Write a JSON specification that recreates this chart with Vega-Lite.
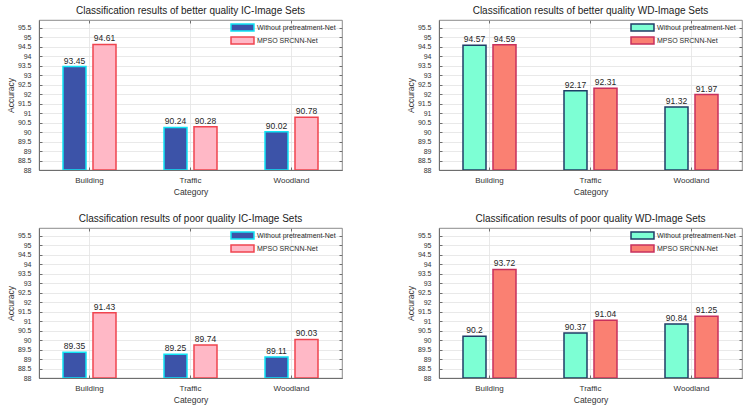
{
  "$schema": "https://vega.github.io/schema/vega-lite/v6.json",
  "autosize": {"type": "pad"},
  "padding": {"left": 5, "top": 5, "right": 7, "bottom": 5},
  "background": "white",
  "config": {
    "font": "Liberation Sans",
    "view": {"stroke": "#6e6e6e", "strokeWidth": 0.8},
    "axis": {"domainColor": "#6e6e6e", "tickColor": "#6e6e6e", "gridColor": "#e3e3e3", "gridWidth": 0.8, "labelColor": "#333333", "titleColor": "#333333", "titleFontWeight": "normal", "labelFont": "Liberation Sans", "titleFont": "Liberation Sans"},
    "title": {"font": "Liberation Sans", "fontSize": 10, "fontWeight": "normal", "color": "#222222", "offset": 4},
    "legend": {"labelFont": "Liberation Sans", "labelFontSize": 7, "labelColor": "#2a2a2a", "orient": "none", "legendX": 197, "legendY": 1, "padding": 0, "symbolType": "M-2,-0.6H2V0.6H-2Z", "symbolSize": 132, "symbolStrokeWidth": 1.5, "symbolOpacity": 1, "rowPadding": -1, "labelOffset": 8, "title": null}
  },
  "bounds": "flush",
  "columns": 2,
  "spacing": {"row": 58, "column": 97},
  "datasets": {
    "ic_better": [
      {"category": "Building", "method": "Without pretreatment-Net", "accuracy": 93.45},
      {"category": "Building", "method": "MPSO SRCNN-Net", "accuracy": 94.61},
      {"category": "Traffic", "method": "Without pretreatment-Net", "accuracy": 90.24},
      {"category": "Traffic", "method": "MPSO SRCNN-Net", "accuracy": 90.28},
      {"category": "Woodland", "method": "Without pretreatment-Net", "accuracy": 90.02},
      {"category": "Woodland", "method": "MPSO SRCNN-Net", "accuracy": 90.78}
    ],
    "wd_better": [
      {"category": "Building", "method": "Without pretreatment-Net", "accuracy": 94.57},
      {"category": "Building", "method": "MPSO SRCNN-Net", "accuracy": 94.59},
      {"category": "Traffic", "method": "Without pretreatment-Net", "accuracy": 92.17},
      {"category": "Traffic", "method": "MPSO SRCNN-Net", "accuracy": 92.31},
      {"category": "Woodland", "method": "Without pretreatment-Net", "accuracy": 91.32},
      {"category": "Woodland", "method": "MPSO SRCNN-Net", "accuracy": 91.97}
    ],
    "ic_poor": [
      {"category": "Building", "method": "Without pretreatment-Net", "accuracy": 89.35},
      {"category": "Building", "method": "MPSO SRCNN-Net", "accuracy": 91.43},
      {"category": "Traffic", "method": "Without pretreatment-Net", "accuracy": 89.25},
      {"category": "Traffic", "method": "MPSO SRCNN-Net", "accuracy": 89.74},
      {"category": "Woodland", "method": "Without pretreatment-Net", "accuracy": 89.11},
      {"category": "Woodland", "method": "MPSO SRCNN-Net", "accuracy": 90.03}
    ],
    "wd_poor": [
      {"category": "Building", "method": "Without pretreatment-Net", "accuracy": 90.2},
      {"category": "Building", "method": "MPSO SRCNN-Net", "accuracy": 93.72},
      {"category": "Traffic", "method": "Without pretreatment-Net", "accuracy": 90.37},
      {"category": "Traffic", "method": "MPSO SRCNN-Net", "accuracy": 91.04},
      {"category": "Woodland", "method": "Without pretreatment-Net", "accuracy": 90.84},
      {"category": "Woodland", "method": "MPSO SRCNN-Net", "accuracy": 91.25}
    ]
  },
  "concat": [
    {
      "title": "Classification results of better quality IC-Image Sets",
      "width": 303, "height": 150,
      "data": {"name": "ic_better"},
      "encoding": {
        "x": {"field": "category", "type": "nominal", "sort": ["Building", "Traffic", "Woodland"], "scale": {"paddingInner": 0, "paddingOuter": 0}, "axis": {"title": "Category", "labelAngle": 0, "labelFontSize": 8, "titleFontSize": 8.5, "tickSize": -3, "labelPadding": 9, "titlePadding": 3, "grid": true, "bandPosition": 0.5}},
        "xOffset": {"field": "method", "sort": ["Without pretreatment-Net", "MPSO SRCNN-Net"], "scale": {"paddingInner": 0.233, "paddingOuter": 0.8}},
        "y": {"field": "accuracy", "type": "quantitative", "scale": {"domain": [88, 95.9], "zero": false, "nice": false}, "axis": {"title": "Accuracy", "format": "~g", "values": [88, 88.5, 89, 89.5, 90, 90.5, 91, 91.5, 92, 92.5, 93, 93.5, 94, 94.5, 95, 95.5], "labelFontSize": 7, "titleFontSize": 8.5, "tickSize": -3, "labelPadding": 11, "titlePadding": 2, "grid": true}}
      },
      "layer": [
        {
          "mark": {"type": "bar", "strokeWidth": 1.5, "clip": true},
          "encoding": {
            "y2": {"datum": 88},
            "fill": {"field": "method", "type": "nominal", "scale": {"domain": ["Without pretreatment-Net", "MPSO SRCNN-Net"], "range": ["#3c53a8", "#ffb8c6"]}},
            "stroke": {"field": "method", "type": "nominal", "scale": {"domain": ["Without pretreatment-Net", "MPSO SRCNN-Net"], "range": ["#10e4f4", "#f0444f"]}}
          }
        },
        {
          "mark": {"type": "text", "baseline": "bottom", "dy": -1, "fontSize": 8.5, "color": "#262626"},
          "encoding": {
            "text": {"field": "accuracy", "type": "quantitative", "format": "~g"},
            "x": {"field": "category", "type": "nominal", "sort": ["Building", "Traffic", "Woodland"], "axis": {"orient": "top", "title": null, "labels": false, "tickSize": -3, "domain": false, "grid": false, "bandPosition": 0.5}},
            "y": {"field": "accuracy", "type": "quantitative", "axis": {"orient": "right", "title": null, "labels": false, "tickSize": -3, "domain": false, "grid": false, "values": [88, 88.5, 89, 89.5, 90, 90.5, 91, 91.5, 92, 92.5, 93, 93.5, 94, 94.5, 95, 95.5]}}
          }
        }
      ],
      "resolve": {"axis": {"x": "independent", "y": "independent"}}
    },
    {
      "title": "Classification results of better quality WD-Image Sets",
      "width": 303, "height": 150,
      "data": {"name": "wd_better"},
      "encoding": {
        "x": {"field": "category", "type": "nominal", "sort": ["Building", "Traffic", "Woodland"], "scale": {"paddingInner": 0, "paddingOuter": 0}, "axis": {"title": "Category", "labelAngle": 0, "labelFontSize": 8, "titleFontSize": 8.5, "tickSize": -3, "labelPadding": 9, "titlePadding": 3, "grid": true, "bandPosition": 0.5}},
        "xOffset": {"field": "method", "sort": ["Without pretreatment-Net", "MPSO SRCNN-Net"], "scale": {"paddingInner": 0.233, "paddingOuter": 0.8}},
        "y": {"field": "accuracy", "type": "quantitative", "scale": {"domain": [88, 95.9], "zero": false, "nice": false}, "axis": {"title": "Accuracy", "format": "~g", "values": [88, 88.5, 89, 89.5, 90, 90.5, 91, 91.5, 92, 92.5, 93, 93.5, 94, 94.5, 95, 95.5], "labelFontSize": 7, "titleFontSize": 8.5, "tickSize": -3, "labelPadding": 11, "titlePadding": 2, "grid": true}}
      },
      "layer": [
        {
          "mark": {"type": "bar", "strokeWidth": 1.5, "clip": true},
          "encoding": {
            "y2": {"datum": 88},
            "fill": {"field": "method", "type": "nominal", "scale": {"domain": ["Without pretreatment-Net", "MPSO SRCNN-Net"], "range": ["#7dffd4", "#fa8072"]}},
            "stroke": {"field": "method", "type": "nominal", "scale": {"domain": ["Without pretreatment-Net", "MPSO SRCNN-Net"], "range": ["#1f3d66", "#c8305c"]}}
          }
        },
        {
          "mark": {"type": "text", "baseline": "bottom", "dy": -1, "fontSize": 8.5, "color": "#262626"},
          "encoding": {
            "text": {"field": "accuracy", "type": "quantitative", "format": "~g"},
            "x": {"field": "category", "type": "nominal", "sort": ["Building", "Traffic", "Woodland"], "axis": {"orient": "top", "title": null, "labels": false, "tickSize": -3, "domain": false, "grid": false, "bandPosition": 0.5}},
            "y": {"field": "accuracy", "type": "quantitative", "axis": {"orient": "right", "title": null, "labels": false, "tickSize": -3, "domain": false, "grid": false, "values": [88, 88.5, 89, 89.5, 90, 90.5, 91, 91.5, 92, 92.5, 93, 93.5, 94, 94.5, 95, 95.5]}}
          }
        }
      ],
      "resolve": {"axis": {"x": "independent", "y": "independent"}}
    },
    {
      "title": "Classification results of poor quality IC-Image Sets",
      "width": 303, "height": 150,
      "data": {"name": "ic_poor"},
      "encoding": {
        "x": {"field": "category", "type": "nominal", "sort": ["Building", "Traffic", "Woodland"], "scale": {"paddingInner": 0, "paddingOuter": 0}, "axis": {"title": "Category", "labelAngle": 0, "labelFontSize": 8, "titleFontSize": 8.5, "tickSize": -3, "labelPadding": 9, "titlePadding": 3, "grid": true, "bandPosition": 0.5}},
        "xOffset": {"field": "method", "sort": ["Without pretreatment-Net", "MPSO SRCNN-Net"], "scale": {"paddingInner": 0.233, "paddingOuter": 0.8}},
        "y": {"field": "accuracy", "type": "quantitative", "scale": {"domain": [88, 95.9], "zero": false, "nice": false}, "axis": {"title": "Accuracy", "format": "~g", "values": [88, 88.5, 89, 89.5, 90, 90.5, 91, 91.5, 92, 92.5, 93, 93.5, 94, 94.5, 95, 95.5], "labelFontSize": 7, "titleFontSize": 8.5, "tickSize": -3, "labelPadding": 11, "titlePadding": 2, "grid": true}}
      },
      "layer": [
        {
          "mark": {"type": "bar", "strokeWidth": 1.5, "clip": true},
          "encoding": {
            "y2": {"datum": 88},
            "fill": {"field": "method", "type": "nominal", "scale": {"domain": ["Without pretreatment-Net", "MPSO SRCNN-Net"], "range": ["#3c53a8", "#ffb8c6"]}},
            "stroke": {"field": "method", "type": "nominal", "scale": {"domain": ["Without pretreatment-Net", "MPSO SRCNN-Net"], "range": ["#10e4f4", "#f0444f"]}}
          }
        },
        {
          "mark": {"type": "text", "baseline": "bottom", "dy": -1, "fontSize": 8.5, "color": "#262626"},
          "encoding": {
            "text": {"field": "accuracy", "type": "quantitative", "format": "~g"},
            "x": {"field": "category", "type": "nominal", "sort": ["Building", "Traffic", "Woodland"], "axis": {"orient": "top", "title": null, "labels": false, "tickSize": -3, "domain": false, "grid": false, "bandPosition": 0.5}},
            "y": {"field": "accuracy", "type": "quantitative", "axis": {"orient": "right", "title": null, "labels": false, "tickSize": -3, "domain": false, "grid": false, "values": [88, 88.5, 89, 89.5, 90, 90.5, 91, 91.5, 92, 92.5, 93, 93.5, 94, 94.5, 95, 95.5]}}
          }
        }
      ],
      "resolve": {"axis": {"x": "independent", "y": "independent"}}
    },
    {
      "title": "Classification results of poor quality WD-Image Sets",
      "width": 303, "height": 150,
      "data": {"name": "wd_poor"},
      "encoding": {
        "x": {"field": "category", "type": "nominal", "sort": ["Building", "Traffic", "Woodland"], "scale": {"paddingInner": 0, "paddingOuter": 0}, "axis": {"title": "Category", "labelAngle": 0, "labelFontSize": 8, "titleFontSize": 8.5, "tickSize": -3, "labelPadding": 9, "titlePadding": 3, "grid": true, "bandPosition": 0.5}},
        "xOffset": {"field": "method", "sort": ["Without pretreatment-Net", "MPSO SRCNN-Net"], "scale": {"paddingInner": 0.233, "paddingOuter": 0.8}},
        "y": {"field": "accuracy", "type": "quantitative", "scale": {"domain": [88, 95.9], "zero": false, "nice": false}, "axis": {"title": "Accuracy", "format": "~g", "values": [88, 88.5, 89, 89.5, 90, 90.5, 91, 91.5, 92, 92.5, 93, 93.5, 94, 94.5, 95, 95.5], "labelFontSize": 7, "titleFontSize": 8.5, "tickSize": -3, "labelPadding": 11, "titlePadding": 2, "grid": true}}
      },
      "layer": [
        {
          "mark": {"type": "bar", "strokeWidth": 1.5, "clip": true},
          "encoding": {
            "y2": {"datum": 88},
            "fill": {"field": "method", "type": "nominal", "scale": {"domain": ["Without pretreatment-Net", "MPSO SRCNN-Net"], "range": ["#7dffd4", "#fa8072"]}},
            "stroke": {"field": "method", "type": "nominal", "scale": {"domain": ["Without pretreatment-Net", "MPSO SRCNN-Net"], "range": ["#1f3d66", "#c8305c"]}}
          }
        },
        {
          "mark": {"type": "text", "baseline": "bottom", "dy": -1, "fontSize": 8.5, "color": "#262626"},
          "encoding": {
            "text": {"field": "accuracy", "type": "quantitative", "format": "~g"},
            "x": {"field": "category", "type": "nominal", "sort": ["Building", "Traffic", "Woodland"], "axis": {"orient": "top", "title": null, "labels": false, "tickSize": -3, "domain": false, "grid": false, "bandPosition": 0.5}},
            "y": {"field": "accuracy", "type": "quantitative", "axis": {"orient": "right", "title": null, "labels": false, "tickSize": -3, "domain": false, "grid": false, "values": [88, 88.5, 89, 89.5, 90, 90.5, 91, 91.5, 92, 92.5, 93, 93.5, 94, 94.5, 95, 95.5]}}
          }
        }
      ],
      "resolve": {"axis": {"x": "independent", "y": "independent"}}
    }
  ],
  "resolve": {"scale": {"fill": "independent", "stroke": "independent"}, "legend": {"fill": "independent", "stroke": "independent"}}
}
